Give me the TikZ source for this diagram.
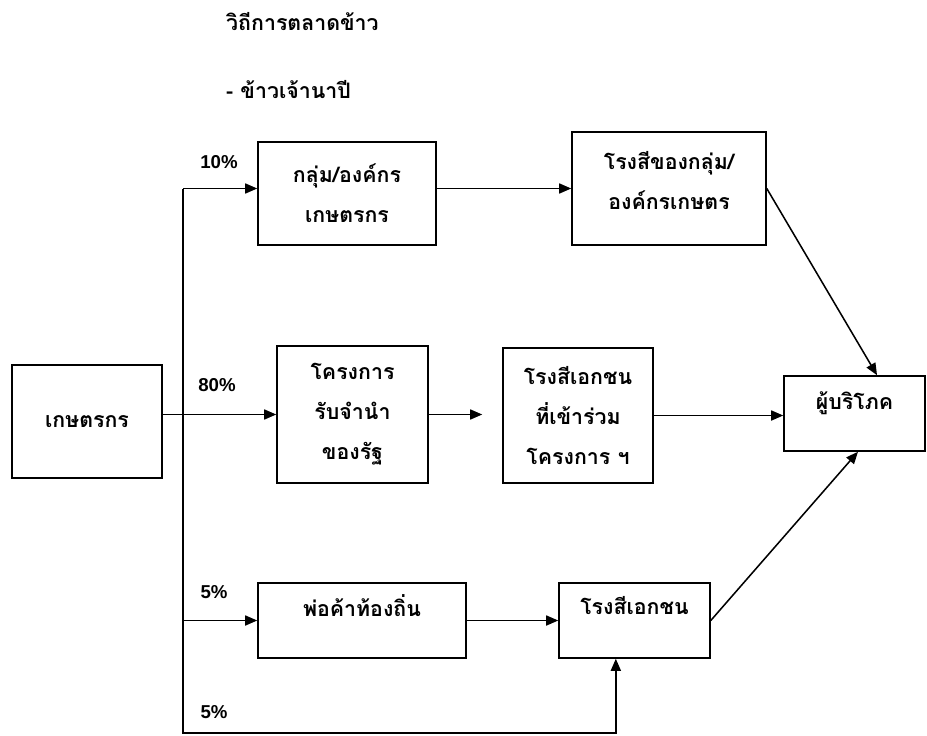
\documentclass[tikz,border=0pt]{standalone}
\usepackage{fontspec}
\usepackage{tikz}
\usetikzlibrary{arrows.meta}
\setmainfont{Liberation Sans}
\newfontfamily\thaifont[Script=Thai]{Loma}

\begin{document}
\begin{tikzpicture}[x=0.75pt, y=-0.75pt, line width=1.15pt, >={Triangle[length=9pt,width=7.5pt]},
	every node/.style={font=\thaifont\bfseries\fontsize{16}{30}\selectfont},
	box/.style={draw, inner sep=0pt},
	pct/.style={font=\rmfamily\bfseries\fontsize{14}{16}\selectfont}]
	\useasboundingbox (0,0) rectangle (927,735);
	\node [anchor=west] (title) at (221,22) {วิถีการตลาดข้าว};
	\node [anchor=west] (subtitle) at (221,90) {- ข้าวเจ้านาปี};
	\node [box, minimum width=112.5pt, minimum height=84.75pt] (farmer) at (87,421.5) {เกษตรกร};
	\node [box, align=center, minimum width=133.5pt, minimum height=77.25pt] (group) at (347,193.5) {กลุ่ม/องค์กร\\เกษตรกร};
	\node [box, align=center, minimum width=145.5pt, minimum height=84.75pt] (groupmill) at (669,188.5) {โรงสีของกลุ่ม/\\องค์กรเกษตร\rule[-12pt]{0pt}{12pt}};
	\node [box, align=center, minimum width=113.25pt, minimum height=102.75pt] (project) at (352.5,414.5) {โครงการ\\รับจำนำ\\ของรัฐ};
	\node [box, align=center, minimum width=112.5pt, minimum height=101.25pt] (millproj) at (578,415.5) {โรงสีเอกชน\\ที่เข้าร่วม\\โครงการ ฯ};
	\node [box, text depth=20pt, minimum width=105.75pt, minimum height=56.25pt] (consumer) at (854.5,413.5) {ผู้บริโภค};
	\node [box, text depth=22pt, minimum width=156pt, minimum height=56.25pt] (trader) at (362,620.5) {พ่อค้าท้องถิ่น};
	\node [box, text depth=22pt, minimum width=113.25pt, minimum height=56.25pt] (millprivate) at (634.5,620.5) {โรงสีเอกชน};
	\node [pct] (p10) at (219,162) {10\%};
	\node [pct] (p80) at (217,385) {80\%};
	\node [pct] (p5a) at (214,592) {5\%};
	\node [pct] (p5b) at (214,712) {5\%};
	\coordinate (spine) at (183,733);
	\draw [->] (farmer.east |- project.west) -- (project.west);
	\draw [->] (spine |- groupmill.west) -- (group.west |- groupmill.west);
	\draw [->] (spine |- groupmill.west) -- (spine) -| ([xshift=-14pt]millprivate.south);
	\draw [->] (spine |- trader.west) -- (trader.west);
	\draw [->] (group.east |- groupmill.west) -- (groupmill.west);
	\draw [->, shorten >=15pt] (project.east) -- (project.east -| millproj.west);
	\draw [->] (millproj.east) -- (millproj.east -| consumer.west);
	\draw [->] (trader.east) -- (millprivate.west);
	\draw [->] (groupmill.east) -- ([xshift=16.9pt]consumer.north);
	\draw [->] (millprivate.east) -- ([xshift=2.6pt]consumer.south);
\end{tikzpicture}
\end{document}
